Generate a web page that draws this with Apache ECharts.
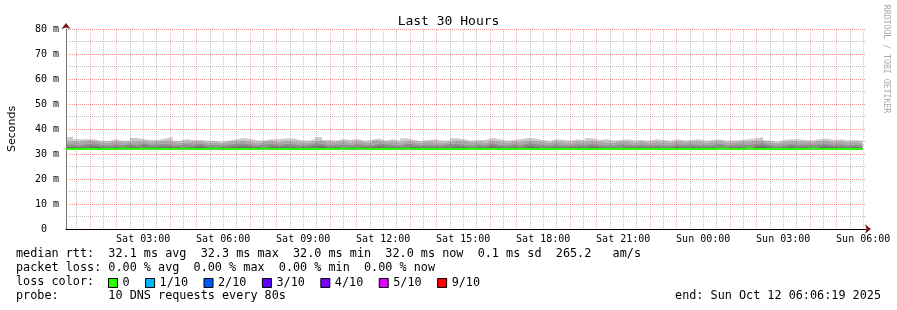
<!DOCTYPE html>
<html><head><meta charset="utf-8">
<script src="https://cdn.jsdelivr.net/npm/echarts@6/dist/echarts.min.js"></script>
<style>html,body{margin:0;padding:0;background:#fff}#c{width:897px;height:310px}</style>
</head><body><div id="c"></div>
<script>
// time axis in hours since Sat 00:00; graph starts Sat 00:06:19, spans 30 h
const startHour = 6/60 + 19/3600;
const spanHours = 30;
const blockMinutes = 16;

const majorTicks = [1,2,3,4,5,6,7,8,9,10,11,12,13,14,15,16,17,18,19,20,21,22,23,24,25,26,27,28,29,30];
const minorTicks = [0.5,1.5,2.5,3.5,4.5,5.5,6.5,7.5,8.5,9.5,10.5,11.5,12.5,13.5,14.5,15.5,16.5,17.5,18.5,19.5,20.5,21.5,22.5,23.5,24.5,25.5,26.5,27.5,28.5,29.5];
const labelTicks = [3,6,9,12,15,18,21,24,27,30];
const tickLabels = ['Sat 03:00','Sat 06:00','Sat 09:00','Sat 12:00','Sat 15:00','Sat 18:00','Sat 21:00','Sun 00:00','Sun 03:00','Sun 06:00'];

// median rtt (ms) per 16-minute block
const median = [
32.0,32.0,32.1,32.0,32.0,32.1,32.0,32.3,32.1,32.0,
32.3,32.1,32.1,32.0,32.0,32.1,32.3,32.0,32.0,32.1,
32.3,32.1,32.0,32.0,32.1,32.0,32.0,32.3,32.1,32.0,
32.0,32.1,32.0,32.0,32.1,32.0,32.1,32.0,32.3,32.1,
32.3,32.1,32.0,32.0,32.1,32.0,32.1,32.3,32.0,32.0,
32.1,32.0,32.0,32.1,32.0,32.0,32.2,32.0,32.1,32.0,
32.0,32.1,32.0,32.2,32.0,32.0,32.1,32.0,32.0,32.1,
32.0,32.0,32.1,32.0,32.0,32.1,32.0,32.2,32.0,32.0,
32.1,32.0,32.0,32.1,32.0,32.0,32.1,32.0,32.0,32.1,
32.0,32.3,32.1,32.0,32.0,32.3,32.1,32.0,32.0,32.1,
32.0,32.0,32.1,32.0,32.3,32.1,32.0,32.0,32.1,32.0,32.0,32.1];

// smoke: lowest ping and upper ping levels (ms)
const pingLow = [
31.7,31.7,31.8,31.7,31.6,31.7,31.7,31.8,31.7,31.7,
31.8,31.7,31.7,31.6,31.7,31.7,31.8,31.7,31.6,31.7,
31.8,31.7,31.7,31.6,31.7,31.7,31.7,31.8,31.7,31.6,
31.7,31.7,31.6,31.7,31.7,31.7,31.8,31.7,31.8,31.7,
31.8,31.7,31.6,31.7,31.7,31.6,31.7,31.8,31.7,31.6,
31.7,31.7,31.6,31.7,31.7,31.6,31.8,31.7,31.7,31.6,
31.7,31.7,31.6,31.8,31.7,31.6,31.7,31.7,31.6,31.7,
31.7,31.6,31.7,31.7,31.6,31.7,31.7,31.8,31.6,31.7,
31.7,31.6,31.7,31.7,31.6,31.7,31.7,31.6,31.7,31.7,
31.6,31.8,31.7,31.7,31.6,31.8,31.7,31.7,31.6,31.7,
31.7,31.6,31.7,31.7,31.8,31.7,31.6,31.7,31.7,31.6,31.7,31.7];
const ping7 = [
32.8,32.6,33.0,33.2,32.7,32.6,32.8,32.7,33.1,32.7,
33.2,32.7,32.8,33.0,32.7,32.6,32.9,32.7,33.1,32.6,
32.7,32.5,32.8,33.0,33.2,32.7,32.6,32.8,33.0,32.7,
33.0,32.8,32.6,32.7,33.1,33.2,32.6,32.8,32.7,32.6,
32.9,32.7,32.6,33.2,32.8,32.7,32.6,33.0,32.8,32.6,
32.8,32.6,32.7,32.9,33.0,32.7,32.6,32.8,32.6,33.2,
32.7,32.6,32.8,32.7,33.2,32.9,32.7,32.6,32.8,32.6,
32.6,32.8,32.7,33.1,32.7,32.6,32.5,32.8,32.7,32.6,
32.8,32.6,32.7,32.6,32.5,32.8,32.7,32.8,32.7,32.6,
32.7,33.0,32.6,32.7,32.8,32.7,33.0,33.4,32.7,32.5,
32.6,33.0,32.7,32.8,32.7,32.9,33.1,32.7,32.8,32.6,32.7,32.6];
const ping8 = [
33.8,33.4,34.0,34.2,33.6,33.4,33.8,33.4,34.0,33.6,
34.2,33.6,33.8,34.0,33.6,33.4,33.9,33.6,34.1,33.4,
33.6,33.3,33.8,34.0,34.2,33.6,33.4,33.8,34.0,33.5,
34.0,33.8,33.4,33.6,34.1,34.2,33.4,33.8,33.6,33.4,
33.9,33.6,33.4,34.2,33.8,33.6,33.4,34.0,33.8,33.4,
33.8,33.4,33.6,33.9,34.0,33.6,33.4,33.8,33.4,34.2,
33.6,33.4,33.8,33.5,34.2,33.9,33.6,33.4,33.8,33.4,
33.4,33.8,33.6,34.1,33.6,33.4,33.3,33.8,33.6,33.4,
33.8,33.4,33.6,33.4,33.3,33.8,33.6,33.8,33.6,33.4,
33.6,34.0,33.4,33.6,33.8,33.6,34.0,34.4,33.6,33.2,
33.4,34.0,33.6,33.8,33.6,33.9,34.1,33.5,33.8,33.4,33.6,33.4];
const ping9 = [
34.9,34.8,35.3,35.2,34.6,34.4,35.0,34.6,34.8,34.9,
35.1,34.6,34.9,35.2,34.9,34.4,34.6,34.9,34.8,34.4,
34.6,34.2,34.8,35.0,35.2,34.6,34.4,34.9,35.1,34.6,
35.2,34.8,34.6,34.4,35.0,35.4,34.6,34.8,34.9,34.4,
35.0,34.6,34.4,35.3,34.8,34.9,34.4,35.1,34.8,34.4,
34.9,34.6,34.4,34.8,35.2,34.9,34.6,34.8,34.4,35.2,
34.8,34.4,34.9,34.6,35.3,35.0,34.8,34.4,34.9,34.6,
34.4,34.9,34.6,35.2,34.8,34.6,34.4,34.9,34.8,34.4,
34.9,34.4,34.8,34.6,34.4,35.0,34.6,34.8,34.9,34.4,
34.8,35.0,34.4,34.6,34.9,34.8,35.2,35.4,34.6,34.2,
34.6,35.1,34.8,34.9,34.6,35.0,35.2,34.6,34.9,34.6,34.8,34.4];
const pingHigh = [
36.8,35.9,35.9,35.9,35.3,35.2,35.9,35.3,35.4,36.4,
35.9,35.6,35.6,36.2,36.8,35.3,35.9,35.6,35.6,35.3,
35.3,34.9,35.4,35.9,36.4,35.9,35.4,35.4,35.9,35.9,
36.2,36.2,35.6,35.3,35.9,36.8,35.6,35.4,35.9,35.6,
36.0,35.3,35.6,36.2,35.4,35.9,35.3,36.3,35.6,35.2,
35.6,35.9,35.3,35.4,36.3,35.9,35.3,35.6,35.6,36.4,
35.9,35.3,35.6,35.9,36.4,36.2,35.6,35.2,35.9,35.6,
35.3,35.9,35.4,36.3,35.6,35.9,35.3,35.6,35.9,35.4,
35.6,35.3,35.9,35.6,35.3,35.9,35.4,35.6,35.9,35.3,
35.6,35.9,35.3,35.4,35.6,35.9,36.2,36.8,35.4,34.9,
35.6,35.9,35.9,35.6,35.4,35.9,36.2,35.6,35.9,35.4,35.6,35.3];

const lossNames = ['0','1/10','2/10','3/10','4/10','5/10','9/10'];
const lossColors = ['#26ff00','#00b8ff','#0059ff','#5e00ff','#7e00ff','#dd00ff','#ff0000'];

const textLines = [
  'median rtt:  32.1 ms avg  32.3 ms max  32.0 ms min  32.0 ms now  0.1 ms sd  265.2   am/s',
  'packet loss: 0.00 % avg  0.00 % max  0.00 % min  0.00 % now',
  'loss color:',
  'probe:       10 DNS requests every 80s'
];
const endText = 'end: Sun Oct 12 06:06:19 2025';

// build [time, value] pairs (step lines need a closing point at the end of the last block)
function timeOf(i) { return startHour + i * blockMinutes / 60; }
function pairs(arr, pad) {
  const out = arr.map((v, i) => [timeOf(i), v]);
  out.push([timeOf(arr.length) + (pad || 0), arr[arr.length - 1]]);
  return out;
}

const mono = '"DejaVu Sans Mono", monospace';
const chart = echarts.init(document.getElementById('c'), null, {renderer: 'canvas'});

// smoke layers painted from the outermost (lightest) inward; the lowest ping layer is a white mask
const layers = [
  [pingHigh, '#cbcbcb', 0],
  [ping9, '#a9a9a9', 0],
  [ping8, '#8e8e8e', 0],
  [ping7, '#6e6e6e', 0],
  [pingLow, '#ffffff', 0.06]
];
const smokeSeries = layers.map(([arr, col, pad], k) => ({
  type: 'line', name: 'smoke' + k, step: 'end', symbol: 'none', silent: true, z: 2,
  lineStyle: {width: 0}, areaStyle: {color: col, opacity: 1, origin: 'start'},
  data: pairs(arr, pad)
}));

const legendSeries = lossNames.map((n, i) => ({
  type: 'bar', name: n, data: [], itemStyle: {color: lossColors[i]}
}));

const redGrid = {color: 'rgba(240,0,0,0.42)', type: [1, 1], width: 1};
const redGridV = {color: 'rgba(240,0,0,0.3)', type: [1, 1], width: 1};
const grayGrid = {color: 'rgba(110,110,110,0.45)', type: [1, 1], width: 1};
const xRange = {type: 'value', min: startHour, max: startHour + spanHours, position: 'bottom', z: 3};

chart.setOption({
  animation: false,
  backgroundColor: '#fff',
  title: {text: 'Last 30 Hours', left: 'center', top: 10,
    textStyle: {fontFamily: mono, fontSize: 13, fontWeight: 'normal', color: '#000'}},
  grid: {left: 66, right: 31, top: 29, height: 200, outerBoundsMode: 'none', containLabel: false},
  legend: {
    data: lossNames, left: 108, top: 277, padding: 0, itemWidth: 9, itemHeight: 9,
    itemGap: 15.5, icon: 'rect', selectedMode: false,
    itemStyle: {borderColor: '#000', borderWidth: 1},
    textStyle: {fontFamily: mono, fontSize: 11.8, color: '#000'}
  },
  xAxis: [
    // minor (half-hour) grid + arrow
    Object.assign({}, xRange, {
      axisLine: {show: true, symbol: ['none', 'arrow'], symbolSize: [7, 6], symbolOffset: [0, 5],
        lineStyle: {color: '#7a1515', width: 0}},
      axisTick: {show: false, customValues: minorTicks},
      axisLabel: {show: false},
      splitLine: {show: true, lineStyle: grayGrid}
    }),
    // axis line and labels
    Object.assign({}, xRange, {
      axisLine: {show: true, lineStyle: {color: '#000', width: 1}},
      axisTick: {show: false, customValues: labelTicks},
      axisLabel: {customValues: labelTicks, margin: 5, fontFamily: mono, fontSize: 10, color: '#000',
        formatter: v => tickLabels[labelTicks.indexOf(Math.round(v))] || ''},
      splitLine: {show: false}
    })
  ],
  yAxis: [{
    type: 'value', min: 0, max: 80, interval: 10, position: 'left', z: 3,
    name: 'Seconds', nameLocation: 'middle', nameGap: 48, nameRotate: 90,
    nameTextStyle: {fontFamily: '"DejaVu Sans"', fontSize: 11, color: '#000'},
    axisLine: {show: true, lineStyle: {color: '#777', width: 1}},
    axisTick: {show: false},
    minorTick: {show: false, splitNumber: 2},
    axisLabel: {margin: 7, fontFamily: mono, fontSize: 10, color: '#000',
      formatter: v => v === 0 ? '0\u00a0\u00a0' : v + ' m'},
    splitLine: {show: true, lineStyle: redGrid},
    minorSplitLine: {show: true, lineStyle: grayGrid}
  }, {
    type: 'value', min: 0, max: 80, interval: 10, position: 'left', z: 3,
    axisLine: {show: true, symbol: ['none', 'arrow'], symbolSize: [7, 6], symbolOffset: [0, 6],
      lineStyle: {color: '#7a1515', width: 0}},
    axisTick: {show: false}, axisLabel: {show: false}, splitLine: {show: false}
  }],
  graphic: [
    ...textLines.map((t, i) => ({
      type: 'text', x: 16, y: 254 + i * 14, silent: true,
      style: {text: t, font: '11.8px ' + mono, fill: '#000', textVerticalAlign: 'middle'}
    })),
    {type: 'text', x: 881, y: 296, silent: true,
      style: {text: endText, font: '11.8px ' + mono, fill: '#000', textAlign: 'right', textVerticalAlign: 'middle'}},
    {type: 'text', x: 886, y: 59, rotation: -Math.PI / 2, silent: true,
      style: {text: 'RRDTOOL / TOBI OETIKER', font: '8.2px ' + mono, fill: '#aaa', textAlign: 'center', textVerticalAlign: 'middle'}}
  ],
  series: [
    ...smokeSeries.map(s => Object.assign(s, {xAxisIndex: 1})),
    // hourly major grid lines, drawn over the smoke
    {type: 'line', name: 'hourGrid', symbol: 'none', silent: true, z: 4, xAxisIndex: 1,
      lineStyle: {opacity: 0}, data: pairs(median),
      markLine: {silent: true, symbol: ['none', 'none'], label: {show: false}, animation: false,
        lineStyle: redGridV, emphasis: {disabled: true},
        data: majorTicks.map(v => ({xAxis: v}))}},
    {type: 'line', name: 'median', step: 'end', symbol: 'none', z: 5, silent: true, xAxisIndex: 1,
      lineStyle: {color: '#26ff00', width: 2}, data: pairs(median)},
    ...legendSeries.map(s => Object.assign(s, {xAxisIndex: 1}))
  ]
});
</script>
</body></html>
